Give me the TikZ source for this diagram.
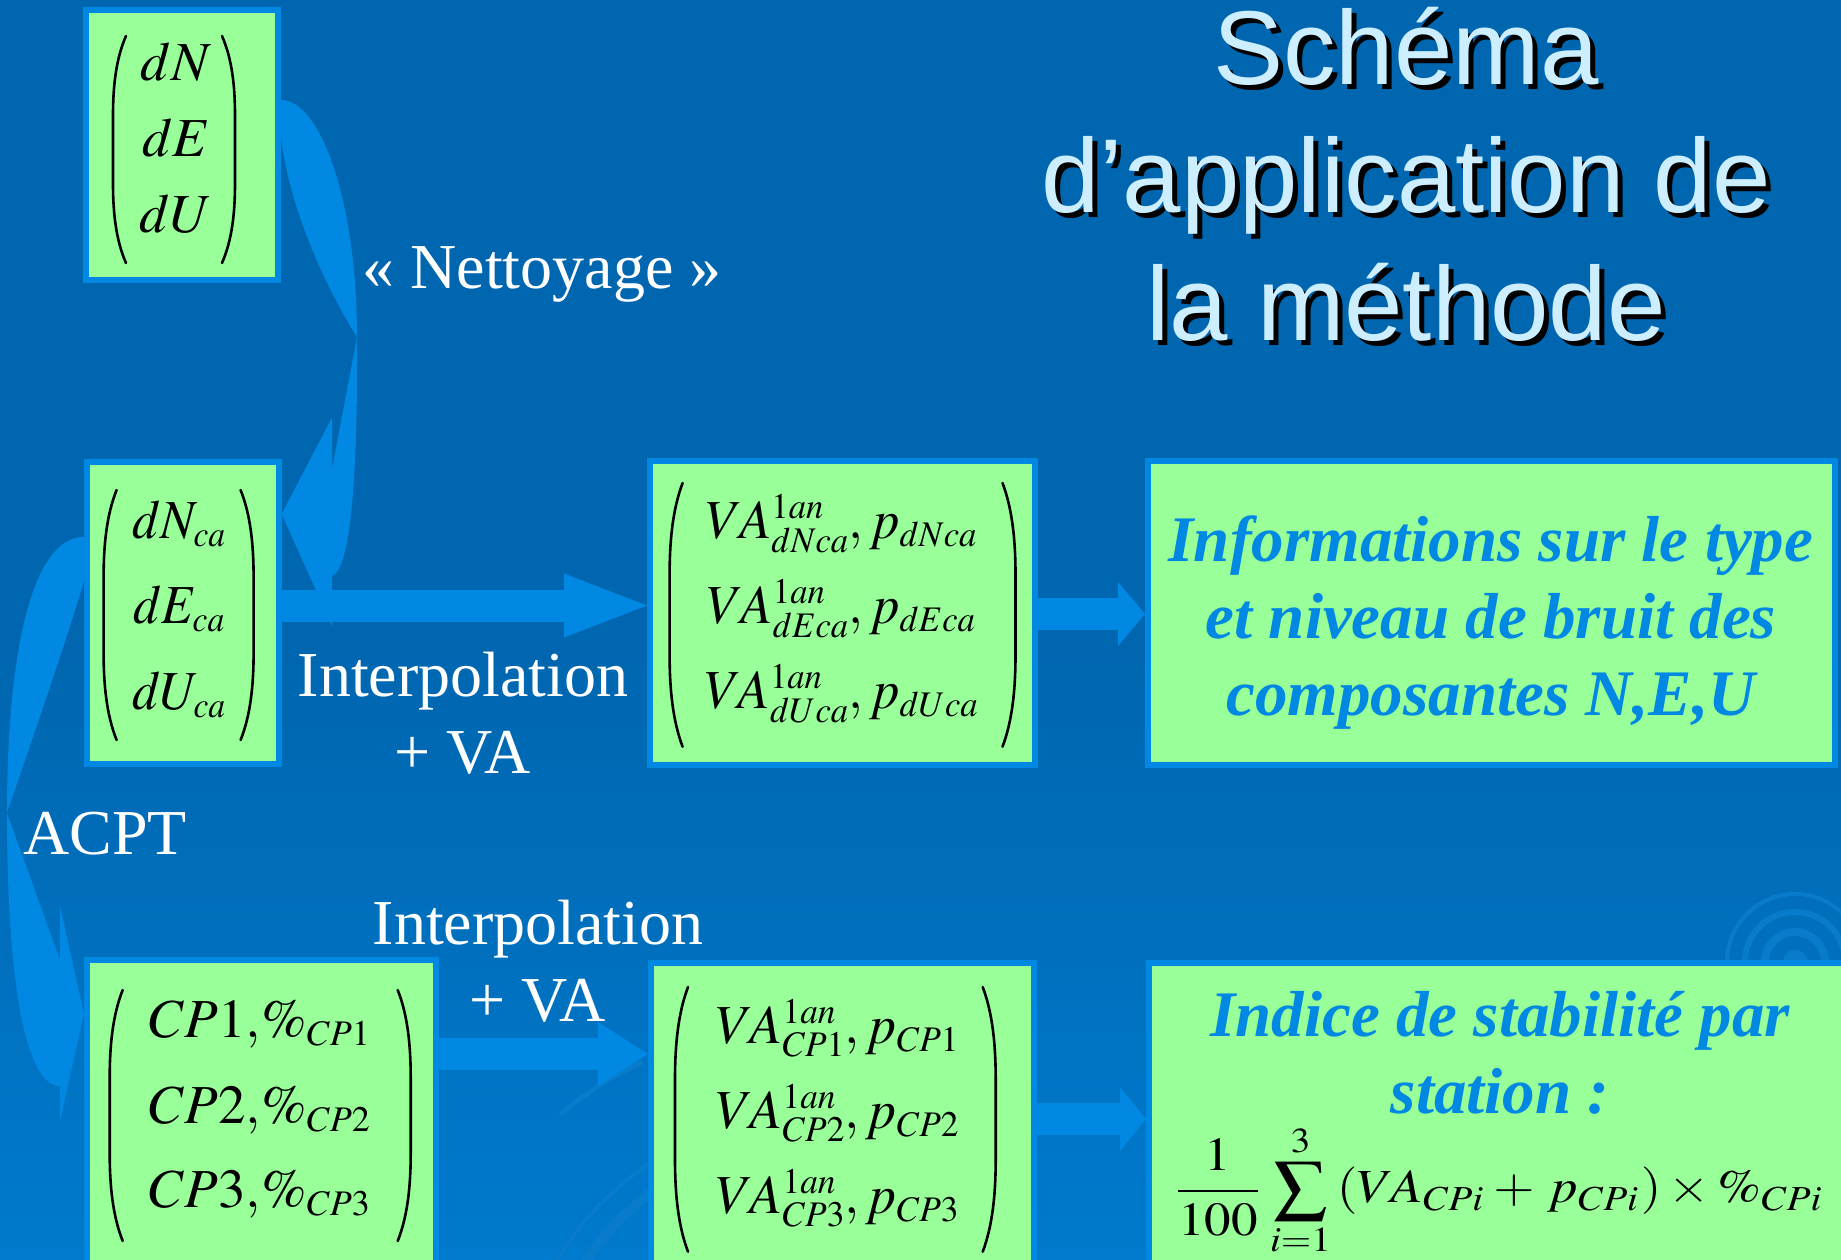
\documentclass[tikz,border=0pt]{standalone}
\usepackage{mathptmx}
\usepackage{fontspec}
\setmainfont{Liberation Serif}
\newfontfamily\titlefont{Liberation Sans}
\usepackage{graphicx}
\usetikzlibrary{arrows.meta}
\DeclareMathSizes{55}{55}{36}{26}

\definecolor{bgtop}{HTML}{0066B0}
\definecolor{bgbot}{HTML}{007ACC}
\definecolor{lightblue}{HTML}{0088E3}
\definecolor{boxgreen}{HTML}{99FF99}
\definecolor{titlecyan}{HTML}{CCEEFF}
\definecolor{swirl}{HTML}{087CCB}

% a pair of tall parentheses: left x, right x, top y, bottom y
\newcommand{\vparens}[4]{%
  \pgfmathsetmacro\parh{#4-#3}
  \draw[parenline] ({#1+13},#3) .. controls ({#1+3},{#3+0.1*\parh}) and (#1,{#3+0.22*\parh}) .. (#1,{#3+0.35*\parh})
    -- (#1,{#4-0.35*\parh}) .. controls (#1,{#4-0.22*\parh}) and ({#1+3},{#4-0.1*\parh}) .. ({#1+13},#4);
  \draw[parenline] ({#2-13},#3) .. controls ({#2-3},{#3+0.1*\parh}) and (#2,{#3+0.22*\parh}) .. (#2,{#3+0.35*\parh})
    -- (#2,{#4-0.35*\parh}) .. controls (#2,{#4-0.22*\parh}) and ({#2-3},{#4-0.1*\parh}) .. ({#2-13},#4);
}

\tikzset{
  box/.style={rectangle, draw=lightblue, line width=6pt, fill=boxgreen, inner sep=0pt},
  fatarrow/.style={draw=lightblue, line width=32pt, -{Triangle[length=#1, width=64pt, line width=0pt]}},
  parenline/.style={black, line width=2.6pt, line cap=round},
  mathrow/.style={font=\fontsize{55}{66}\selectfont, inner sep=0pt, anchor=base, xscale=#1},
  mathrow/.default=1,
  labeltext/.style={text=white, font=\fontsize{64}{77}\selectfont, inner sep=0pt, anchor=base},
  bluetext/.style={text=lightblue, font=\fontsize{65}{77}\selectfont\bfseries\itshape, align=center, inner sep=0pt, anchor=base},
  titletext/.style={font=\titlefont\fontsize{105}{128}\selectfont, align=center, inner sep=0pt, anchor=base}
}

\begin{document}
\begin{tikzpicture}[x=1pt,y=-1pt]

% slide background
\useasboundingbox (0,0) rectangle (1841,1259);
\clip (0,0) rectangle (1841,1259);
\fill[bgtop] (0,0) rectangle (1841,1259);
\shade[top color=bgtop, bottom color=bgbot] (0,650) rectangle (1841,1259);

% faint swirls of the template
\fill[swirl] (1795,962) circle (12pt);
\draw[swirl, line width=8pt] (1795,962) circle (30pt);
\draw[swirl, line width=6pt] (1795,962) circle (50pt);
\draw[swirl, line width=4pt] (1795,962) circle (68pt);
\draw[swirl, line width=4pt]  (800,1400) ++(200:280) arc[start angle=200, end angle=250, radius=280];
\draw[swirl, line width=10pt] (800,1400) ++(205:255) arc[start angle=205, end angle=250, radius=255];
\draw[swirl, line width=5pt]  (800,1400) ++(230:373) arc[start angle=230, end angle=245, radius=373];

% curved arrow "Nettoyage"
\fill[lightblue] (281,100) .. controls (320,100) and (357,200) .. (357,337)
  .. controls (358,480) and (350,570) .. (332,576)
  -- (332,626) -- (281.7,514) -- (332,417.5) -- (332,469) -- (357,337)
  .. controls (333,300) and (290,215) .. (281,137) -- cycle;

% curved arrow "ACPT"
\fill[lightblue] (84,537) .. controls (30,537) and (7,660) .. (7,813)
  .. controls (7,980) and (25,1086) .. (60,1086)
  -- (60,1121) -- (84,1014) -- (60,906) -- (60,960) -- (7,813)
  .. controls (25,760) and (70,630) .. (84,581) -- cycle;

% boxes
\node[box, minimum width=192pt, minimum height=270pt] (b1) at (182,145) {};
\node[box, minimum width=192pt, minimum height=302pt] (b2) at (183,613) {};
\node[box, minimum width=385pt, minimum height=304pt] (b3) at (842.5,613) {};
\node[box, minimum width=687pt, minimum height=304pt] (b4) at (1491.5,613) {};
\node[box, minimum width=349pt, minimum height=330pt] (b5) at (261.5,1125) {};
\node[box, minimum width=383pt, minimum height=328pt] (b6) at (842.5,1127) {};
\node[box, minimum width=749pt, minimum height=328pt] (b7) at (1523.5,1127) {};

% straight arrows
\draw[fatarrow=83pt] (b2.east |- 0,605.5) -- (b3.west |- 0,605.5);
\draw[fatarrow=27pt] (b3.east |- 0,614) -- (b4.west |- 0,614);
\draw[fatarrow=50pt] (b5.east |- 0,1054) -- (b6.west |- 0,1054);
\draw[fatarrow=26pt] (b6.east |- 0,1119) -- (b7.west |- 0,1119);

% vectors in the boxes
\vparens{113}{235}{36}{263}
\node[mathrow] (r11) at (176,80.6) {$dN$};
\node[mathrow] (r12) at (176,156) {$dE$};
\node[mathrow] (r13) at (176,232) {$dU$};

\vparens{103.6}{253.6}{490}{740}
\node[mathrow=0.93] (r21) at (179,538) {$dN_{ca}$};
\node[mathrow=0.93] (r22) at (179,623.5) {$dE_{ca}$};
\node[mathrow=0.93] (r23) at (179,709) {$dU_{ca}$};

\vparens{669.6}{1015.5}{483}{746.7}
\node[mathrow=0.96] (r31) at (841.5,538) {$VA^{1an}_{dNca}, p_{dNca}$};
\node[mathrow=0.96] (r32) at (841.5,623) {$VA^{1an}_{dEca}, p_{dEca}$};
\node[mathrow=0.96] (r33) at (841.5,708) {$VA^{1an}_{dUca}, p_{dUca}$};

\vparens{109.7}{410.7}{990}{1241}
\node[mathrow] (r51) at (260,1037.5) {$CP1{,}\%_{CP1}$};
\node[mathrow] (r52) at (260,1123) {$CP2{,}\%_{CP2}$};
\node[mathrow] (r53) at (260,1207) {$CP3{,}\%_{CP3}$};

\vparens{675}{995.7}{987}{1251.7}
\node[mathrow=0.98] (r61) at (837.5,1043) {$VA^{1an}_{CP1}, p_{CP1}$};
\node[mathrow=0.98] (r62) at (837.5,1128) {$VA^{1an}_{CP2}, p_{CP2}$};
\node[mathrow=0.98] (r63) at (837.5,1213) {$VA^{1an}_{CP3}, p_{CP3}$};

% texts of the result boxes
\node[bluetext] (info) at (1491,715) {Informations sur le type\\et niveau de bruit des\\composantes N,E,U};
\node[bluetext] (indice) at (1500,1113) {Indice de stabilité par\\station :};
\node[inner sep=0pt] (formula) at (1498,1190.5) {\resizebox*{652pt}{133pt}{$\displaystyle\frac{1}{100}\sum_{i=1}^{3}\,(VA_{CPi}+\,p_{CPi})\times\%_{CPi}$}};

% labels of the arrows
\node[labeltext] (nett) at (542,288) {« Nettoyage »};
\node[labeltext, align=center] (interp1) at (463,773) {Interpolation\\+ VA};
\node[labeltext] (acpt) at (105,854) {ACPT};
\node[labeltext, align=center] (interp2) at (538,1021) {Interpolation\\+ VA};

% title with its shadow
\node[titletext, text=black] (shadow) at (1411,345) {Schéma\\d’application de\\la méthode};
\node[titletext, text=titlecyan] (title) at (1406,340) {Schéma\\d’application de\\la méthode};

\end{tikzpicture}
\end{document}
